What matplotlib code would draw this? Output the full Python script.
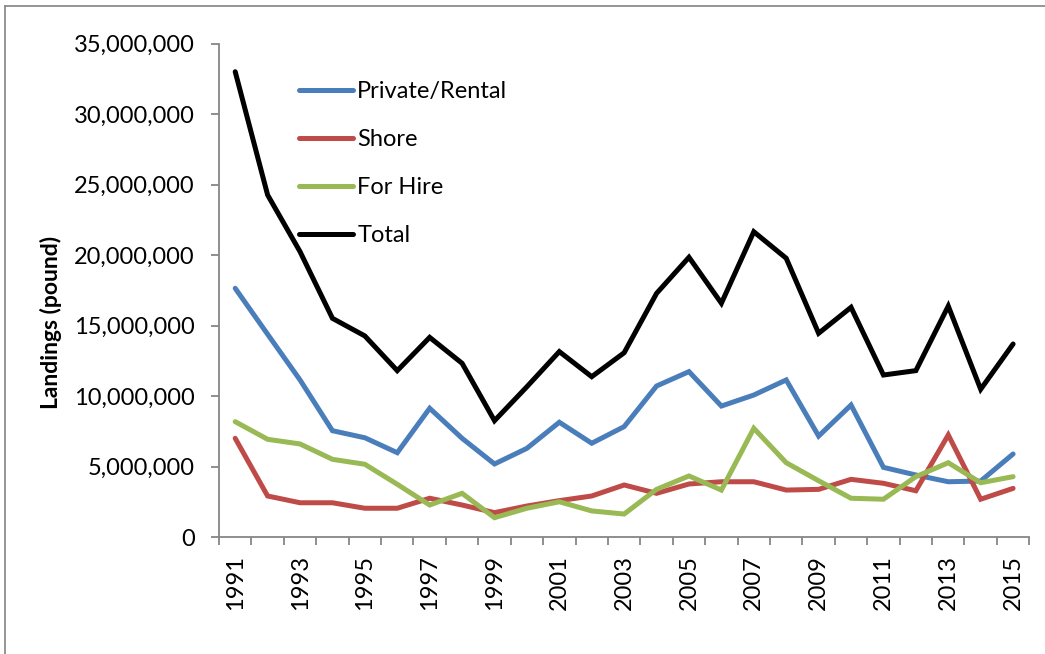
import matplotlib
matplotlib.use("Agg")
import matplotlib.pyplot as plt
from matplotlib.ticker import FuncFormatter, FixedLocator
from matplotlib.lines import Line2D

years = list(range(1991, 2016))
private_rental = [17.66, 14.4, 11.16, 7.56, 7.06, 6.0, 9.15, 7.02, 5.2, 6.31, 8.16, 6.67, 7.85,
                  10.73, 11.75, 9.31, 10.09, 11.16, 7.18, 9.38, 4.96, 4.42, 3.94, 3.99, 5.91]
shore = [7.02, 2.93, 2.45, 2.45, 2.06, 2.06, 2.77, 2.29, 1.75, 2.22, 2.6, 2.93, 3.71,
         3.12, 3.78, 3.94, 3.94, 3.35, 3.4, 4.11, 3.83, 3.3, 7.26, 2.7, 3.47]
for_hire = [8.2, 6.95, 6.62, 5.53, 5.18, 3.76, 2.29, 3.12, 1.39, 2.06, 2.52, 1.87, 1.65,
            3.4, 4.35, 3.35, 7.73, 5.29, 4.01, 2.77, 2.7, 4.3, 5.29, 3.87, 4.3]
total = [33.02, 24.28, 20.26, 15.53, 14.28, 11.82, 14.18, 12.34, 8.27, 10.68, 13.17, 11.39, 13.09,
         17.3, 19.86, 16.6, 21.67, 19.79, 14.47, 16.31, 11.51, 11.82, 16.4, 10.5, 13.71]
series_names = ["Private/Rental", "Shore", "For Hire", "Total"]
colors = ["#4A7EBB", "#BE4B48", "#98B954", "#000000"]

plt.rcParams['font.family'] = ['Lato', 'DejaVu Sans']

W, H = 1045, 654
fig = plt.figure(figsize=(W / 100, H / 100), dpi=100)
ax = fig.add_axes([219 / W, 1 - 537.3 / H, (1029.3 - 219) / W, (537.3 - 43.8) / H])

x = list(range(len(years)))
for vals, name, c in zip([private_rental, shore, for_hire, total], series_names, colors):
    ax.plot(x, [v * 1e6 for v in vals], color=c, lw=3.6, label=name,
            solid_joinstyle='miter', solid_capstyle='round')

ax.set_xlim(-0.5, len(years) - 0.5)
ax.set_ylim(0, 35e6)
ax.yaxis.set_major_locator(FixedLocator([i * 5e6 for i in range(8)]))
ax.yaxis.set_major_formatter(FuncFormatter(lambda v, p: f"{int(v):,}"))

ax.xaxis.set_major_locator(FixedLocator([i - 0.5 for i in range(len(years) + 1)]))
ax.xaxis.set_major_formatter(FuncFormatter(lambda v, p: ""))
ax.xaxis.set_minor_locator(FixedLocator(x))
ax.xaxis.set_minor_formatter(FuncFormatter(
    lambda v, p: str(years[int(round(v))]) if years[int(round(v))] % 2 == 1 else ""))

gray = "#868686"
for s in ["top", "right"]:
    ax.spines[s].set_visible(False)
for s in ["left", "bottom"]:
    ax.spines[s].set_color(gray)
    ax.spines[s].set_linewidth(1.3)

ax.tick_params(axis='y', which='major', direction='out', length=5.5, width=1.3, color=gray,
               labelsize=17, pad=12)
ax.tick_params(axis='x', which='major', direction='out', length=6, width=1.3, color=gray)
ax.tick_params(axis='x', which='minor', length=0, labelsize=17, labelrotation=90, pad=13)

fig.text(51 / W, 1 - 322 / H, "Landings (pound)", rotation=90, ha='center', va='center',
         fontsize=16.5, fontweight='bold')

leg = ax.legend(loc='upper left', bbox_to_anchor=(80 / (1029.3 - 219), 1 - (81 - 43.8) / (537.3 - 43.8)),
                frameon=False, fontsize=17, handlelength=2.3, handletextpad=0.17,
                labelspacing=1.15, borderpad=0, borderaxespad=0)

fig.add_artist(Line2D([5 / W, 5 / W], [0, 1 - 6 / H], transform=fig.transFigure, color="#8c8c8c", lw=1.3))
fig.add_artist(Line2D([5 / W, 1], [1 - 6 / H, 1 - 6 / H], transform=fig.transFigure, color="#8c8c8c", lw=1.3))

fig.savefig("out.png", dpi=100)
